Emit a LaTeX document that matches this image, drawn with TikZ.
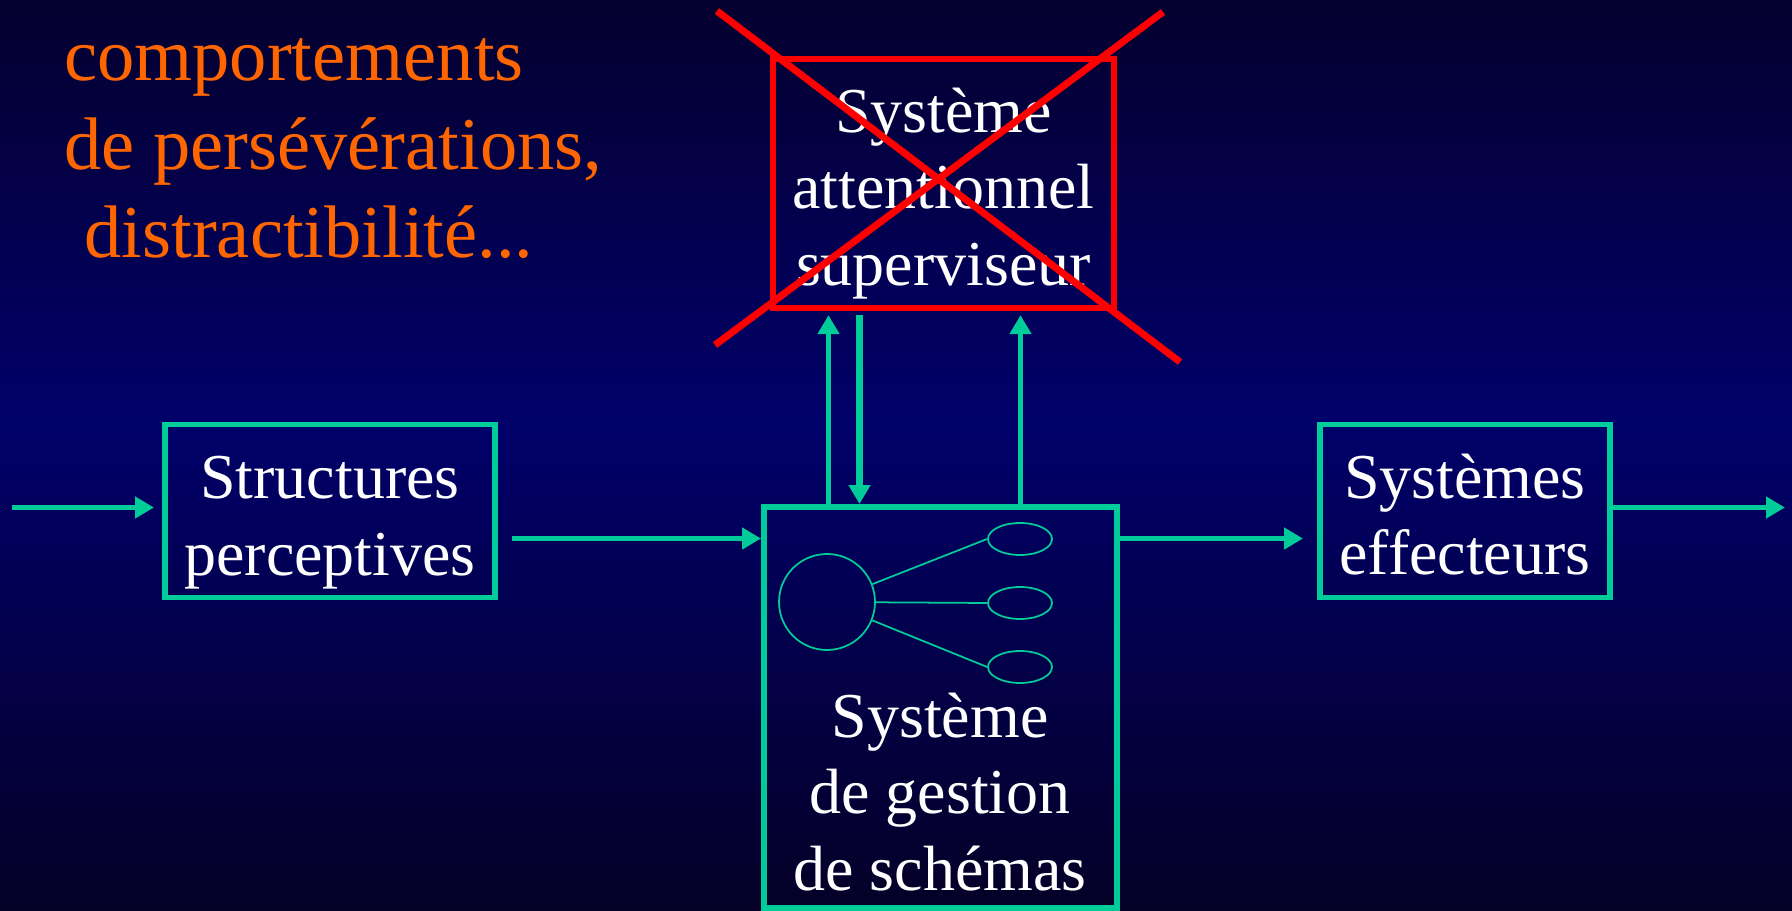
\documentclass[tikz,border=0pt]{standalone}
\usepackage{fontspec}
\setmainfont{Liberation Serif}
\usetikzlibrary{positioning,arrows.meta,shapes.geometric,calc}

\definecolor{bgdark}{RGB}{5,0,46}
\definecolor{bgdeep}{RGB}{5,0,38}
\definecolor{bgmid}{RGB}{0,0,106}
\definecolor{schemagreen}{RGB}{0,204,153}
\definecolor{crossred}{RGB}{255,0,0}
\definecolor{noteorange}{RGB}{255,102,0}

\begin{document}
\begin{tikzpicture}[
x=1cm,y=1cm,
box/.style={draw=schemagreen,line width=3.4pt,inner sep=0pt},
boxtext/.style={align=center,text=white,font=\fontsize{36.4}{43.7}\selectfont,inner sep=0pt},
flow/.style={draw=schemagreen,line width=3.2pt,-{Triangle[length=0.38cm,width=0.42cm]}},
thin/.style={draw=schemagreen,line width=1pt},
>=Stealth]
% fond
\shade[top color=bgdark,bottom color=bgmid] (0,9.76) rectangle (35.84,18.22);
\shade[top color=bgmid,bottom color=bgdeep] (0,0) rectangle (35.84,9.76);
\useasboundingbox (0,0) rectangle (35.84,18.22);

\node[box,minimum width=6.6cm,minimum height=3.46cm] (percep) at (6.6,8.0) {};
\node[box,minimum width=5.8cm,minimum height=3.46cm] (effect) at (29.3,8.0) {};
\node[box,minimum width=7.06cm,minimum height=8.02cm] (gestion) at (18.81,4.07) {};
\node[box,draw=crossred,line width=3.6pt,minimum width=6.82cm,minimum height=4.98cm] (superv) at (18.87,14.55) {};

\node[boxtext] (perceptext) at ([yshift=-0.23cm]percep.center) {Structures\\perceptives};
\node[boxtext] (effecttext) at ([yshift=-0.07cm]effect.center) {Systèmes\\effecteurs};
\node[boxtext] (supervtext) at ([yshift=-0.2cm]superv.center) {Système\\attentionnel\\superviseur};
\node[boxtext] (gestiontext) at (18.8,2.38) {Système\\de gestion\\de schémas};

% schema inside
\node[circle,thin,minimum size=1.92cm,inner sep=0pt] (hub) at (16.54,6.18) {};
\node[ellipse,thin,minimum width=1.28cm,minimum height=0.64cm,inner sep=0pt] (leafa) at (20.4,7.44) {};
\node[ellipse,thin,minimum width=1.28cm,minimum height=0.64cm,inner sep=0pt] (leafb) at (20.4,6.16) {};
\node[ellipse,thin,minimum width=1.28cm,minimum height=0.64cm,inner sep=0pt] (leafc) at (20.4,4.88) {};
\draw[thin] (hub) -- (leafa.west);
\draw[thin] (hub) -- (leafb.west);
\draw[thin] (hub) -- (leafc.west);

\node[anchor=north west,align=left,text=noteorange,inner sep=0pt,
  font=\fontsize{42.4}{50.5}\selectfont] (note) at (1.28,17.46)
  {comportements\\de persévérations,\\\hspace*{0.27em}distractibilité...};

% connecteurs
\coordinate (entry) at (0.24,8.07);
\coordinate (exit) at (35.7,8.07);
\coordinate (gin) at ([yshift=-0.69cm]gestion.north west);
\coordinate (gout) at ([yshift=-0.69cm]gestion.north east);
\coordinate (upa) at ([xshift=1.35cm]gestion.north west);
\coordinate (down) at ([xshift=1.97cm]gestion.north west);
\coordinate (upb) at ([xshift=5.19cm]gestion.north west);
\draw[flow,shorten >=0.16cm] (entry) -- (entry -| percep.west);
\draw[flow,shorten <=0.28cm] (percep.east |- gin) -- (gin);
\draw[flow,shorten >=0.28cm] (gout) -- (gout -| effect.west);
\draw[flow] (exit -| effect.east) -- (exit);
\draw[flow,shorten >=0.08cm] (upa) -- (upa |- superv.south);
\draw[flow,line width=4.2pt,shorten <=0.08cm] (down |- superv.south) -- (down);
\draw[flow,shorten >=0.08cm] (upb) -- (upb |- superv.south);

% croix rouge
\draw[crossred,line width=4pt] (14.34,18.0) -- (23.6,10.98);
\draw[crossred,line width=4pt] (14.3,11.32) -- (23.26,17.98);
\end{tikzpicture}
\end{document}
